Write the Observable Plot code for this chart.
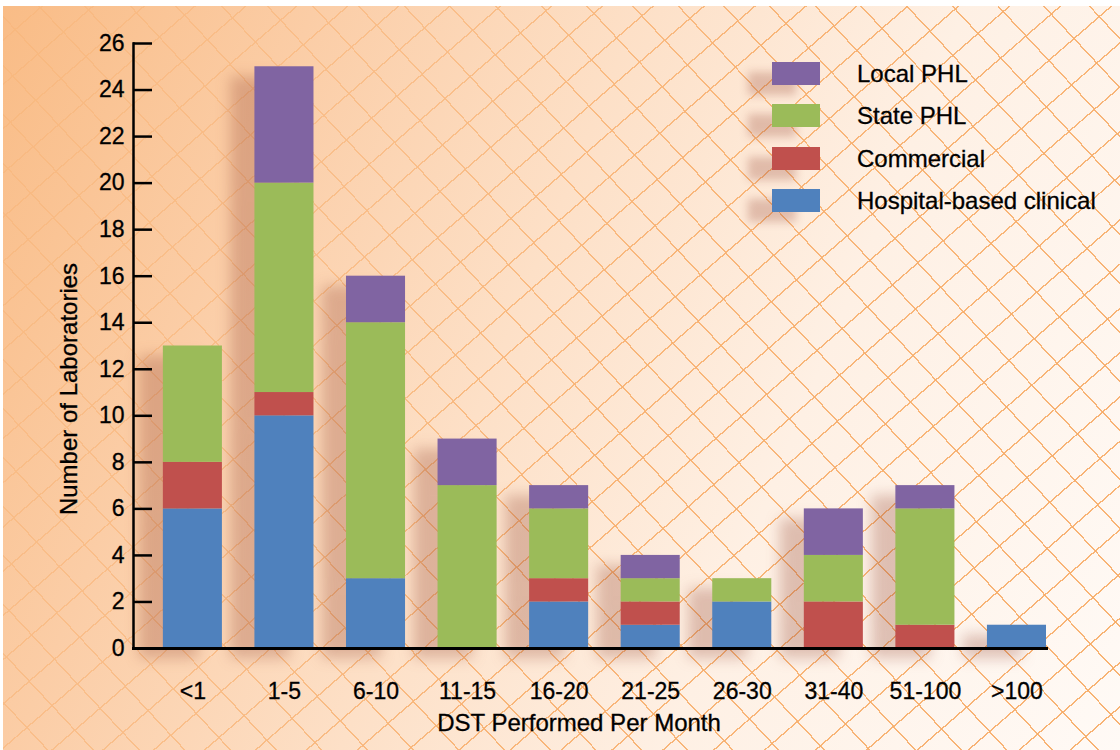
<!DOCTYPE html>
<html>
<head>
<meta charset="utf-8">
<script src="https://cdn.jsdelivr.net/npm/d3@7"></script>
<script src="https://cdn.jsdelivr.net/npm/@observablehq/plot@0.6"></script>
<style>
  html, body { margin: 0; padding: 0; background: #ffffff; }
  #wrap { position: relative; width: 1120px; height: 750px; overflow: hidden; background: #ffffff; font-family: "Liberation Sans", Arial, Helvetica, sans-serif; }
  #bg { position: absolute; left: 3px; top: 6px; right: 0; bottom: 0;
        background: linear-gradient(112deg, #f9bc86 0%, #fbcda6 22%, #fde0c7 45%, #fef0e4 68%, #fffaf6 100%); }
  #hatch { position: absolute; left: 3px; top: 6px; right: 0; bottom: 0;
        background:
          repeating-linear-gradient(47deg, rgba(247,170,100,0) 0px, rgba(247,170,100,0) 32px, rgba(247,170,100,0.9) 32px, rgba(247,170,100,0.9) 33.4px),
          repeating-linear-gradient(-41deg, rgba(247,170,100,0) 0px, rgba(247,170,100,0) 32px, rgba(247,170,100,0.9) 32px, rgba(247,170,100,0.9) 33.4px);
        -webkit-mask-image: linear-gradient(112deg, rgba(0,0,0,0.25) 0%, rgba(0,0,0,0.55) 30%, rgba(0,0,0,0.9) 55%, #000 100%);
        mask-image: linear-gradient(112deg, rgba(0,0,0,0.25) 0%, rgba(0,0,0,0.55) 30%, rgba(0,0,0,0.9) 55%, #000 100%); }
  #chart { position: absolute; left: 0; top: 0; }
  #chart svg { background: transparent !important; }
  #chart svg text { paint-order: stroke; stroke: #000; stroke-width: 0.3px; }
  #legend { position: absolute; left: 772px; top: 62px; }
  .lg-row { position: relative; height: 42.4px; }
  .lg-sw { position: absolute; left: 0; top: 0; width: 48px; height: 23px; box-shadow: -24px 10px 9px rgba(150,70,50,0.28); }
  .lg-tx { position: absolute; left: 85px; top: 12px; transform: translateY(-50%); font-size: 24px; color: #000; white-space: nowrap; line-height: 1; -webkit-text-stroke: 0.3px #000; }
</style>
</head>
<body>
<div id="wrap">
  <div id="bg"></div>
  <div id="hatch"></div>
  <div id="chart"></div>
  <div id="legend"></div>
</div>
<script>
const categories = ["<1", "1-5", "6-10", "11-15", "16-20", "21-25", "26-30", "31-40", "51-100", ">100"];
const hospital   = [6, 10, 3, 0, 2, 1, 2, 0, 0, 1];
const commercial = [2, 1, 0, 0, 1, 1, 0, 2, 1, 0];
const statePHL   = [5, 9, 11, 7, 3, 1, 1, 2, 5, 0];
const localPHL   = [0, 5, 2, 2, 1, 1, 0, 2, 1, 0];
const seriesNames = ["Hospital-based clinical", "Commercial", "State PHL", "Local PHL"];
const seriesColors = ["#4f81bd", "#c0504d", "#9bbb59", "#8064a2"];
const yTicks = [0, 2, 4, 6, 8, 10, 12, 14, 16, 18, 20, 22, 24, 26];
const yLabel = "Number of Laboratories";
const xLabel = "DST Performed Per Month";

const seriesValues = [hospital, commercial, statePHL, localPHL];
const rows = [];
seriesNames.forEach((s, i) => {
  categories.forEach((c, j) => rows.push({category: c, series: s, value: seriesValues[i][j]}));
});

const W = 1120, H = 750;
const mL = 133, mR = 74, mT = 43, mB = 102;
const frameW = W - mL - mR;

const chart = Plot.plot({
  width: W,
  height: H,
  marginLeft: mL,
  marginRight: mR,
  marginTop: mT,
  marginBottom: mB,
  style: {background: "transparent", fontFamily: "'Liberation Sans', Arial, sans-serif", color: "#000"},
  x: {domain: categories, paddingInner: 0.355, paddingOuter: 0.163, align: 1, round: false},
  y: {domain: [0, 26]},
  color: {domain: seriesNames, range: seriesColors},
  marks: [
    Plot.barY(rows, {x: "category", y: "value", fill: "series"}),
    Plot.ruleY(yTicks, {y: d => d, insetRight: frameW - 19, stroke: "#000", strokeWidth: 2.5}),
    Plot.frame({anchor: "left", stroke: "#000", strokeWidth: 2.5}),
    Plot.frame({anchor: "bottom", stroke: "#000", strokeWidth: 3}),
    Plot.axisY({ticks: yTicks, tickSize: 0, tickPadding: 9, fontSize: 23, label: null, tickFormat: d => String(d)}),
    Plot.axisX({tickSize: 0, tickPadding: 34, fontSize: 23, label: null}),
    Plot.text([xLabel], {frameAnchor: "bottom", text: d => d, lineAnchor: "middle", textAnchor: "middle", dy: 75, dx: -11, fontSize: 24, fill: "#000"}),
    Plot.text([yLabel], {frameAnchor: "left", text: d => d, lineAnchor: "middle", textAnchor: "middle", rotate: -90, dx: -64, dy: 43, fontSize: 24, fill: "#000"})
  ]
});
document.getElementById("chart").appendChild(chart);

// soft drop shadow under the bars
const barGroup = chart.querySelector('g[aria-label="bar"]');
if (barGroup) barGroup.style.filter = "drop-shadow(-24px 10px 7px rgba(150,70,50,0.30))";

// legend (top to bottom: reverse of stacking order)
const legend = document.getElementById("legend");
for (let i = seriesNames.length - 1; i >= 0; i--) {
  const row = document.createElement("div");
  row.className = "lg-row";
  const sw = document.createElement("div");
  sw.className = "lg-sw";
  sw.style.background = seriesColors[i];
  const tx = document.createElement("div");
  tx.className = "lg-tx";
  tx.textContent = seriesNames[i];
  row.appendChild(sw);
  row.appendChild(tx);
  legend.appendChild(row);
}
</script>
</body>
</html>
